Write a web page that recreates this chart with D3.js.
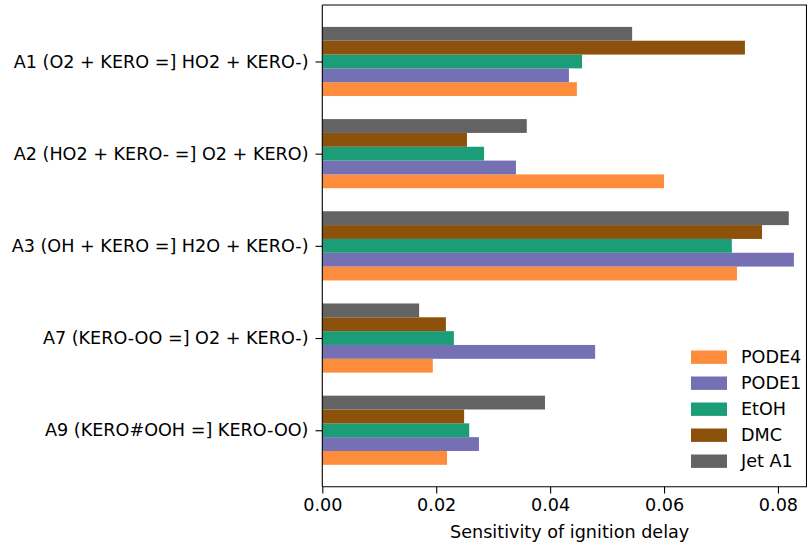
<!DOCTYPE html>
<html>
<head>
<meta charset="utf-8">
<script src="https://cdn.jsdelivr.net/npm/d3@7"></script>
<style>
  html, body { margin: 0; padding: 0; background: #fff; }
  svg { display: block; font-family: "DejaVu Sans", sans-serif; }
</style>
</head>
<body>
<svg id="chart" width="807" height="545"></svg>
<script>
// Reactions (top to bottom)
const reactions = [
  "A1 (O2 + KERO =] HO2 + KERO-)",
  "A2 (HO2 + KERO- =] O2 + KERO)",
  "A3 (OH + KERO =] H2O + KERO-)",
  "A7 (KERO-OO =] O2 + KERO-)",
  "A9 (KERO#OOH =] KERO-OO)"
];

// Fuels, in legend order (PODE4 drawn lowest in each group)
const fuels = ["PODE4", "PODE1", "EtOH", "DMC", "Jet A1"];
const fuelColors = ["#fd8d3c", "#7570b3", "#1b9e77", "#8c510a", "#636363"];

// Sensitivity of ignition delay per fuel, one value per reaction
const pode4 = [0.0447, 0.0600, 0.0728, 0.0194, 0.0219];
const pode1 = [0.0433, 0.0340, 0.0828, 0.0479, 0.0275];
const etoh  = [0.0456, 0.0284, 0.0719, 0.0231, 0.0258];
const dmc   = [0.0742, 0.0254, 0.0772, 0.0217, 0.0249];
const jetA1 = [0.0544, 0.0359, 0.0819, 0.0170, 0.0391];

const xTicks = [0.00, 0.02, 0.04, 0.06, 0.08];

const seriesValues = [pode4, pode1, etoh, dmc, jetA1];

const svg = d3.select("#chart");
const plotLeft = 322.3, plotRight = 807, plotTop = 5, plotBottom = 486.7;
const fontSize = 17.6;
const tickLen = 6.8, tickPad = 7;

// x: sensitivity
const x = d3.scaleLinear().domain([0, 0.0851]).range([plotLeft, plotRight]);

// y: numeric category positions, first reaction at the top
const barH = 0.15;
const yMin = -0.375 - 0.2375, yMax = 4.375 + 0.2375;
const y = d3.scaleLinear().domain([yMin, yMax]).range([plotTop, plotBottom]);

// bars
const g = svg.append("g");
fuels.forEach((fuel, si) => {
  // PODE4 lowest in the group, Jet A1 highest
  const offset = (2 - si) * barH;
  g.selectAll(null)
    .data(seriesValues[si])
    .enter().append("rect")
    .attr("x", x(0))
    .attr("y", (d, i) => y(i + offset - barH / 2))
    .attr("width", d => x(d) - x(0))
    .attr("height", y(barH) - y(0))
    .attr("fill", fuelColors[si]);
});

// axes
const xAxis = d3.axisBottom(x)
  .tickValues(xTicks)
  .tickFormat(d3.format(".2f"))
  .tickSize(tickLen)
  .tickPadding(5.5);
const gx = svg.append("g").attr("transform", `translate(0,${plotBottom})`).call(xAxis);
gx.select(".domain").remove();
gx.attr("font-size", fontSize).attr("font-family", "DejaVu Sans, sans-serif");
gx.selectAll("text").attr("fill", "#000");
gx.selectAll("line").attr("stroke", "#000").attr("stroke-width", 1.1);

const yAxis = d3.axisLeft(y)
  .tickValues(d3.range(reactions.length))
  .tickFormat(i => reactions[i])
  .tickSize(tickLen)
  .tickPadding(tickPad);
const gy = svg.append("g").attr("transform", `translate(${plotLeft},0)`).call(yAxis);
gy.select(".domain").remove();
gy.attr("font-size", fontSize).attr("font-family", "DejaVu Sans, sans-serif");
gy.selectAll("text").attr("fill", "#000");
gy.selectAll("line").attr("stroke", "#000").attr("stroke-width", 1.1);

// spines
const spine = svg.append("g").attr("fill", "none").attr("stroke", "#000").attr("stroke-width", 1.1);
spine.append("line").attr("x1", plotLeft).attr("x2", plotLeft).attr("y1", plotTop).attr("y2", plotBottom);
spine.append("line").attr("x1", plotLeft).attr("x2", plotRight).attr("y1", plotBottom).attr("y2", plotBottom);
spine.append("line").attr("x1", plotLeft).attr("x2", plotRight).attr("y1", plotTop).attr("y2", plotTop);
spine.append("line").attr("x1", plotRight - 0.5).attr("x2", plotRight - 0.5).attr("y1", plotTop).attr("y2", plotBottom);

// axis title
svg.append("text")
  .attr("x", (plotLeft + plotRight) / 2 + 5)
  .attr("y", 537.5)
  .attr("text-anchor", "middle")
  .attr("font-size", fontSize)
  .text("Sensitivity of ignition delay");

// legend
const legend = svg.append("g").attr("transform", "translate(691,357.3)");
fuels.forEach((fuel, i) => {
  const row = legend.append("g").attr("transform", `translate(0,${i * 26})`);
  row.append("rect").attr("x", 0).attr("y", -6.8).attr("width", 36).attr("height", 13.4)
    .attr("fill", fuelColors[i]);
  row.append("text").attr("x", 50).attr("y", 0).attr("dy", "0.35em")
    .attr("font-size", fontSize).text(fuel);
});
</script>
</body>
</html>
